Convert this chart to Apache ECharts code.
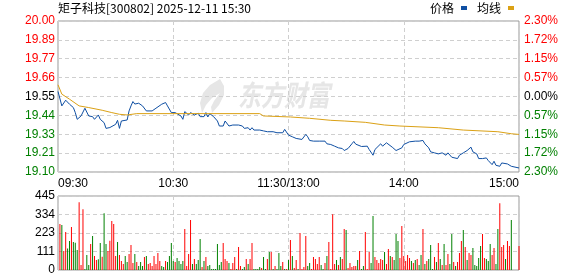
<!DOCTYPE html>
<html>
<head>
<meta charset="utf-8">
<script src="https://cdn.jsdelivr.net/npm/echarts@6/dist/echarts.min.js"></script>
<style>html,body{margin:0;padding:0;background:#fff;}#c{width:578px;height:276px;}</style>
</head>
<body>
<div id="c"></div>
<script>
const titleText = '矩子科技[300802] 2025-12-11 15:30';
const legendNames = ['价格', '均线'];
const priceTicks = ['19.10','19.21','19.33','19.44','19.55','19.66','19.77','19.89','20.00'];
const pctTicks = ['2.30%','1.72%','1.15%','0.57%','0.00%','0.57%','1.15%','1.72%','2.30%'];
const volTicks = ['0','111','223','334','445'];
const timeTicks = ['09:30','10:30','11:30/13:00','14:00','15:00'];
const priceLow = 19.10, priceHigh = 20.00, priceStep = 0.1125;
const volMax = 445;

const priceMin = [0,1,2,3,4,6,7,8,9,10,12,14,16,18,19,21,22,24,25,27,28,30,31,32,33,36,37,38,39,40,42,43,44,46,49,51,54,55,56,57,59,61,62,64,65,66,68,69,71,73,74,76,77,78,79,80,81,83,84,86,87,89,90,91,94,96,97,99,100,101,102,103,105,107,109,110,112,114,115,117,118,119,120,121,122,124,125,127,128,129,130,131,133,134,136,137,139,140,142,144,146,148,149,151,152,153,154,155,156,158,159,161,162,164,165,166,168,169,171,172,174,176,177,179,180,183,184,186,188,189,190,191,193,194,196,197,198,200,202,203,205,206,208,209,210,211,213,215,216,218,219,221,223,224,226,227,228,230,231,232,234,236,237,240];
const priceVal = [19.58,19.574,19.494,19.49,19.528,19.504,19.51,19.484,19.454,19.414,19.434,19.48,19.434,19.43,19.414,19.44,19.414,19.394,19.36,19.365,19.37,19.384,19.408,19.36,19.404,19.41,19.464,19.494,19.52,19.505,19.51,19.50,19.494,19.464,19.464,19.48,19.504,19.494,19.514,19.494,19.454,19.454,19.46,19.434,19.414,19.46,19.44,19.454,19.44,19.45,19.43,19.43,19.454,19.428,19.448,19.454,19.43,19.404,19.374,19.374,19.404,19.374,19.37,19.38,19.38,19.374,19.36,19.364,19.35,19.364,19.35,19.36,19.35,19.345,19.34,19.35,19.34,19.334,19.324,19.334,19.354,19.344,19.32,19.314,19.31,19.30,19.30,19.294,19.298,19.324,19.31,19.288,19.284,19.288,19.284,19.294,19.284,19.268,19.264,19.254,19.244,19.24,19.228,19.24,19.248,19.268,19.282,19.266,19.266,19.252,19.244,19.254,19.234,19.20,19.234,19.244,19.268,19.254,19.274,19.264,19.248,19.228,19.228,19.244,19.264,19.28,19.288,19.284,19.284,19.274,19.288,19.268,19.244,19.22,19.214,19.22,19.208,19.214,19.20,19.214,19.188,19.184,19.18,19.20,19.194,19.214,19.228,19.248,19.22,19.208,19.18,19.18,19.184,19.168,19.144,19.164,19.14,19.134,19.154,19.164,19.148,19.134,19.124,19.124];

const avgMin = [0,2,6,11,16,23,28,32,36,41,105,107,121,131,142,149,160,170,178,198,211,229,236,240];
const avgVal = [19.62,19.564,19.534,19.494,19.484,19.468,19.454,19.444,19.44,19.448,19.448,19.434,19.428,19.42,19.408,19.404,19.396,19.38,19.374,19.364,19.35,19.34,19.328,19.324];

const volVal = [0,
276,270,114,228,130,174,258,168,164,120,
408,30,366,6,90,30,156,204,84,60,
64,162,80,342,156,114,176,294,276,84,
168,90,54,36,84,48,96,150,42,96,
48,24,48,24,78,84,36,42,24,84,
36,102,54,24,18,54,48,84,162,54,
48,72,54,36,54,246,24,96,300,36,
66,36,60,186,18,54,78,24,30,6,
6,6,156,30,48,162,66,54,42,6,
42,78,6,138,24,6,18,66,36,66,
162,6,6,6,18,12,78,6,66,108,
108,6,24,6,102,24,48,6,6,60,
180,84,12,60,6,222,6,18,204,24,
42,6,78,66,36,78,30,6,42,84,
168,6,336,36,60,30,78,66,246,240,
12,42,18,24,24,60,114,6,24,228,
6,108,42,324,78,60,42,66,60,108,
36,126,84,78,60,216,174,72,264,84,
54,90,72,54,42,60,66,30,90,246,
36,54,66,150,6,78,48,162,66,30,
156,30,96,36,216,48,24,48,102,174,
240,138,60,102,90,132,30,24,72,144,
216,72,66,54,156,90,132,36,246,402,
138,150,66,174,144,300,0,0,0,144];
const volDir = [1,
1,-1,1,1,-1,-1,1,-1,-1,-1,
1,1,1,-1,-1,-1,1,-1,1,1,
-1,-1,1,-1,-1,1,1,1,1,1,
-1,1,1,1,-1,-1,1,1,1,-1,
1,-1,-1,-1,1,-1,1,1,1,1,
1,1,1,-1,-1,1,-1,-1,-1,-1,
1,-1,-1,-1,-1,1,1,1,1,-1,
1,-1,-1,-1,1,-1,1,-1,-1,-1,
-1,-1,-1,-1,-1,1,1,1,-1,1,
1,1,-1,1,1,-1,-1,1,-1,1,
1,-1,-1,-1,-1,1,-1,-1,1,-1,
1,-1,1,-1,-1,-1,1,-1,1,-1,
1,-1,1,1,-1,1,1,1,1,-1,
-1,1,1,1,1,1,-1,-1,1,-1,
1,1,1,1,-1,1,-1,1,1,-1,
1,1,1,1,1,-1,1,-1,-1,1,
1,1,-1,-1,1,1,1,1,1,-1,
1,1,-1,1,-1,-1,-1,1,1,1,
1,1,1,-1,1,-1,1,-1,-1,1,
-1,1,-1,-1,-1,1,-1,1,-1,1,
-1,1,1,-1,-1,1,-1,1,1,1,
-1,1,-1,1,1,-1,-1,-1,-1,-1,
1,1,-1,-1,-1,1,1,-1,-1,1,
1,1,-1,1,1,-1,1,1,1,1];

const chart = echarts.init(document.getElementById('c'), null, {renderer: 'canvas'});
const RED = '#ff0000', GREEN = '#008000', BLACK = '#000000';
const labelFont = 'Liberation Sans, Arial, sans-serif';
const cjkFont = 'Noto Sans CJK SC, sans-serif';
const nTicks = priceTicks.length;
const mid = (nTicks - 1) / 2;
function tickColor(v) {
  const i = Math.round(v / priceStep);
  return i > mid ? RED : (i < mid ? GREEN : BLACK);
}
const splitStyle = {show: true, lineStyle: {color: '#cfcfcf', type: [4, 3], width: 1}};

chart.setOption({
  animation: false,
  backgroundColor: '#ffffff',
  title: {text: titleText, left: 58, top: 2, padding: 0,
    textStyle: {fontSize: 12, fontWeight: 'normal', color: '#000', fontFamily: cjkFont}},
  legend: {data: legendNames, right: 64, top: 2, padding: 0, align: 'right', icon: 'rect',
    itemWidth: 6, itemHeight: 4, itemGap: 10,
    textStyle: {fontSize: 12, color: '#000', fontFamily: cjkFont, padding: [0, 2, 0, 0]}},
  graphic: [{
    type: 'group', left: 200, top: 79, z: 0, silent: true,
    children: [
      {type: 'polygon', shape: {points: [[22,0],[12,6],[5,14],[2,24],[4,34],[8,26],[14,19],[22,14],[16,22],[13,28],[14,34],[21,26],[26,16],[26,7]]},
       style: {fill: '#e6e6e6'}},
      {type: 'text', x: 40, y: 2, scaleY: 1.25,
       style: {text: '东方财富', fill: '#e6e6e6', font: 'italic bold 23px ' + cjkFont}}
    ]
  }],
  grid: [
    {left: 58, top: 21, width: 461, height: 151, show: true, borderColor: '#999', borderWidth: 1},
    {left: 58, top: 196, width: 461, height: 74, show: true, borderColor: '#999', borderWidth: 1}
  ],
  xAxis: [
    {type: 'value', gridIndex: 0, min: 0, max: 240, interval: 60,
     axisLine: {show: false}, axisTick: {show: false}, splitLine: splitStyle,
     axisLabel: {show: true, margin: 6, fontSize: 12, color: '#000', fontFamily: labelFont,
       alignMinLabel: 'left', alignMaxLabel: 'right',
       formatter: v => timeTicks[Math.round(v / 60)]}},
    {type: 'value', gridIndex: 1, min: 0, max: 240, interval: 60,
     axisLine: {show: false}, axisTick: {show: false}, splitLine: splitStyle,
     axisLabel: {show: false}}
  ],
  yAxis: [
    {type: 'value', gridIndex: 0, min: 0, max: priceHigh - priceLow, interval: priceStep,
     axisLine: {show: false}, axisTick: {show: false}, splitLine: splitStyle,
     axisLabel: {margin: 3, fontSize: 12, fontFamily: labelFont,
       formatter: v => priceTicks[Math.round(v / priceStep)], color: v => tickColor(v)}},
    {type: 'value', gridIndex: 0, position: 'right', min: 0, max: priceHigh - priceLow, interval: priceStep,
     axisLine: {show: false}, axisTick: {show: false}, splitLine: {show: false},
     axisLabel: {margin: 5, fontSize: 12, fontFamily: labelFont,
       formatter: v => pctTicks[Math.round(v / priceStep)], color: v => tickColor(v)}},
    {type: 'value', gridIndex: 1, min: 0, max: volMax, interval: volMax / 4,
     axisLine: {show: false}, axisTick: {show: false}, splitLine: splitStyle,
     axisLabel: {margin: 3, fontSize: 12, fontFamily: labelFont, color: '#000',
       formatter: v => volTicks[Math.round(v / (volMax / 4))]}}
  ],
  series: [
    {name: legendNames[0], type: 'line', xAxisIndex: 0, yAxisIndex: 0, symbol: 'none', z: 3,
     color: '#0f4fa3', lineStyle: {width: 1, color: '#0f4fa3'},
     data: priceMin.map((m, i) => [m, priceVal[i] - priceLow])},
    {name: legendNames[1], type: 'line', xAxisIndex: 0, yAxisIndex: 0, symbol: 'none', z: 3,
     color: '#dba115', lineStyle: {width: 1, color: '#dba115'},
     data: avgMin.map((m, i) => [m, avgVal[i] - priceLow])},
    {type: 'bar', xAxisIndex: 1, yAxisIndex: 2, barWidth: 1, z: 3,
     data: volVal.map((v, i) => ({value: [i, v], itemStyle: {color: volDir[i] > 0 ? RED : GREEN}}))}
  ]
});
</script>
</body>
</html>
